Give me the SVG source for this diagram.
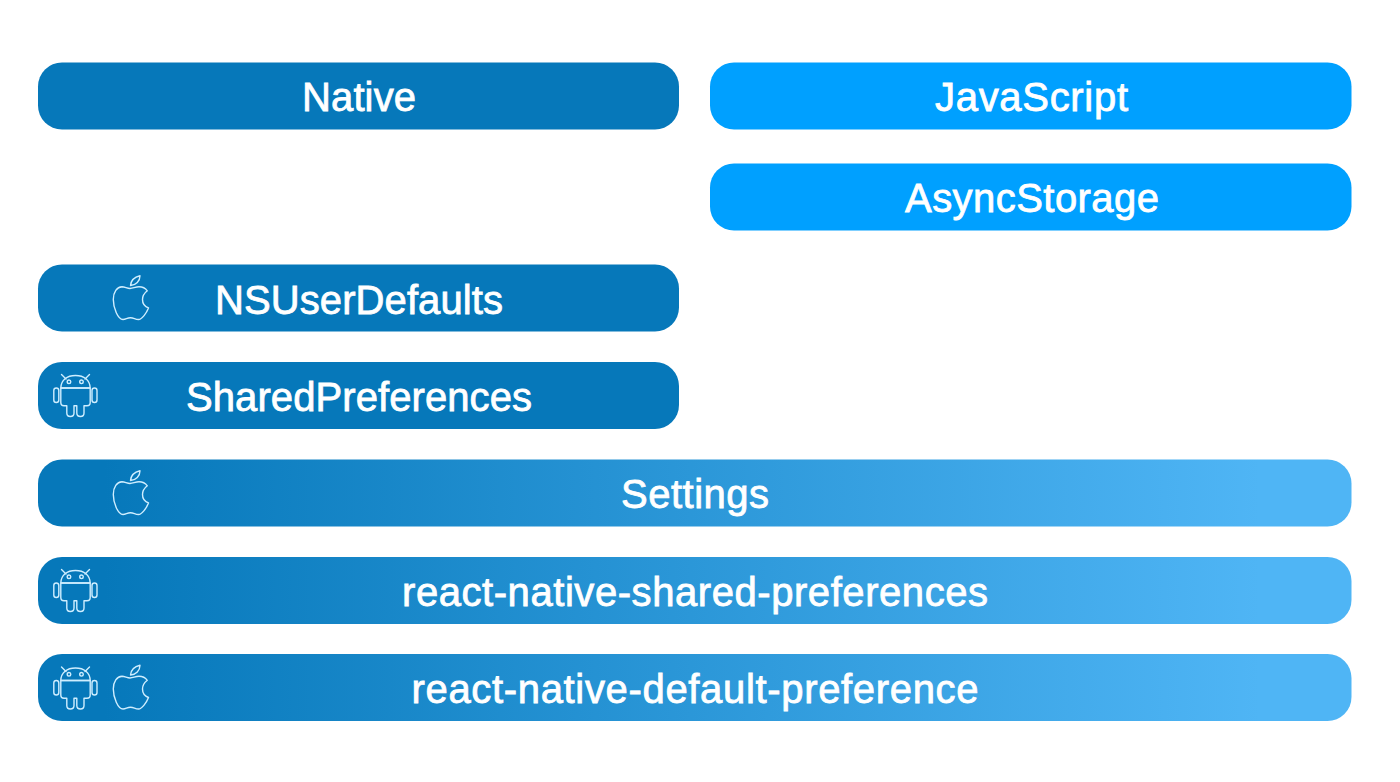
<svg xmlns="http://www.w3.org/2000/svg" width="1400" height="782" viewBox="0 0 1400 782">
<style>
.t{font-family:"Liberation Sans",Arial,sans-serif;font-size:40px;fill:#fff;stroke:#fff;stroke-width:.8;text-anchor:middle}
.n{fill:#0678ba}.j{fill:#00a0ff}
.i{fill:none;stroke:#cfeeff;stroke-width:1.4;stroke-linejoin:round;stroke-linecap:round}
</style>
<defs>
<linearGradient id="g" x1="0.05" y1="0" x2="0.93" y2="0">
<stop offset="0" stop-color="#0678ba"/><stop offset="1" stop-color="#4fb5f5"/>
</linearGradient>
<g id="apple" class="i">
<path d="M130.500 285.500C131 280 135 277 140 275.800C140 281 136 285 130.500 285.500Z"/>
<path d="M130 288.500C127 288.500 125 286.800 122 286.800C117 287 113.300 292 113.300 299.500C113.300 308 118 319.500 123 319.500C126 319.500 127 317.700 130.500 317.700C134 317.700 135 319.500 138.500 319.500C142 319.500 146.500 313 148.500 308C144.500 306.500 142.500 303.500 142.500 299.500C142.500 295.500 144.500 293 147.300 290.800C145 287.700 142 286.800 139 286.800C135.500 286.800 133 288.500 130 288.500Z"/>
</g>
<g id="android" class="i">
<path d="M60.800 388C61 380 67 375.500 75.500 375.500C84 375.500 90 380 90.200 388Z"/>
<path d="M60.800 388H90.200V402.500Q90.200 405.700 87 405.700H84V413Q84 416.500 80.500 416.500Q76.800 416.500 76.800 413V405.700H74V413Q74 416.500 70.300 416.500Q66.800 416.500 66.800 413V405.700H64Q60.800 405.700 60.800 402.500Z"/>
<rect x="53.800" y="388" width="5" height="14.500" rx="2.500"/>
<rect x="92" y="388" width="5" height="14.500" rx="2.500"/>
<circle cx="69" cy="381.800" r="1.800"/><circle cx="81.500" cy="381.800" r="1.800"/>
<path d="M61.500 374.500L66 379M89.500 374.500L85 379"/>
</g>
</defs>
<rect width="1400" height="782" fill="#fff"/>
<g id="connectors"></g>
<g id="native"><rect class="n" x="38" y="62.500" width="641" height="67" rx="24"/><text class="t" x="359" y="111" textLength="114">Native</text></g>
<g id="javascript"><rect class="j" x="710" y="62.500" width="641.500" height="67" rx="24"/><text class="t" x="1031.500" y="111" textLength="193">JavaScript</text></g>
<g id="asyncstorage"><rect class="j" x="710" y="163.500" width="641.500" height="67" rx="24"/><text class="t" x="1032" y="212" textLength="254">AsyncStorage</text></g>
<g id="nsuserdefaults"><rect class="n" x="38" y="264.500" width="641" height="67" rx="24"/><use href="#apple"/><text class="t" x="359" y="314" textLength="288">NSUserDefaults</text></g>
<g id="sharedpreferences"><rect class="n" x="38" y="362" width="641" height="67" rx="24"/><use href="#android"/><text class="t" x="359" y="411" textLength="346">SharedPreferences</text></g>
<g id="settings"><rect fill="url(#g)" x="38" y="459.500" width="1313.500" height="67" rx="24"/><use href="#apple" y="195"/><text class="t" x="695" y="508" textLength="148">Settings</text></g>
<g id="react-native-shared-preferences"><rect fill="url(#g)" x="38" y="557" width="1313.500" height="67" rx="24"/><use href="#android" y="195"/><text class="t" x="695" y="606" textLength="586">react-native-shared-preferences</text></g>
<g id="react-native-default-preference"><rect fill="url(#g)" x="38" y="654" width="1313.500" height="67" rx="24"/><use href="#android" y="292.500"/><use href="#apple" y="389.500"/><text class="t" x="695" y="703" textLength="567">react-native-default-preference</text></g>
</svg>
